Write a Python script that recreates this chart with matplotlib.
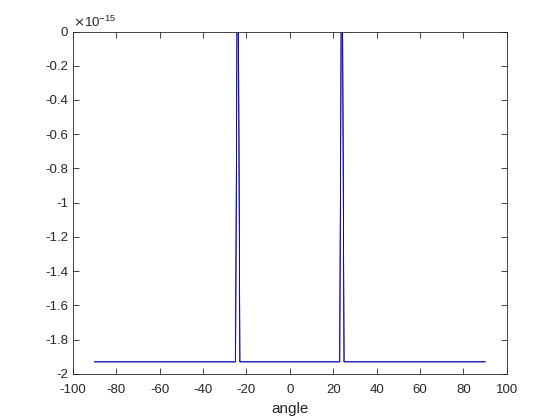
import matplotlib
matplotlib.use('Agg')
import matplotlib.pyplot as plt
import numpy as np

# breakpoints of the curve (values in units of 1e-15)
angle = [-90, -25, -24, -23, 23, 24, 25, 90]
value = [-1.93, -1.93, 1.0, -1.93, -1.93, 1.0, -1.93, -1.93]

xticks = [-100, -80, -60, -40, -20, 0, 20, 40, 60, 80, 100]
yticks = [0, -0.2, -0.4, -0.6, -0.8, -1, -1.2, -1.4, -1.6, -1.8, -2]


def fmt(v):
    s = ('%g' % v)
    return s


def main():
    plt.rcParams['font.family'] = ['Liberation Sans', 'DejaVu Sans']
    fig = plt.figure(figsize=(5.6, 4.2), dpi=100)
    ax = fig.add_axes([0.13, 0.11, 0.775, 0.815])

    x = np.array(angle)
    y = np.array(value)
    ax.plot(x, y, color='black', lw=0.6)
    ax.plot(x, y, color='#0000ff', lw=0.6)

    ax.set_xlim(-100, 100)
    ax.set_ylim(-2, 0)
    ax.set_xticks(xticks)
    ax.set_xticklabels([fmt(t) for t in xticks])
    ax.set_yticks(yticks)
    ax.set_yticklabels([fmt(t) for t in yticks])
    ax.tick_params(direction='in', top=True, right=True, labelsize=9.5,
                   length=4, width=0.6, colors='#262626')
    ax.tick_params(axis='x', pad=7)
    for sp in ax.spines.values():
        sp.set_linewidth(0.6)
        sp.set_color('#262626')
    ax.set_xlabel('angle', fontsize=11, color='#262626', labelpad=5)
    ax.text(0.0, 1.005, r'$\times\mathregular{10^{-15}}$', transform=ax.transAxes,
            fontsize=9.5, color='#262626', ha='left', va='bottom')

    fig.savefig('out.png', dpi=100)


if __name__ == '__main__':
    main()
